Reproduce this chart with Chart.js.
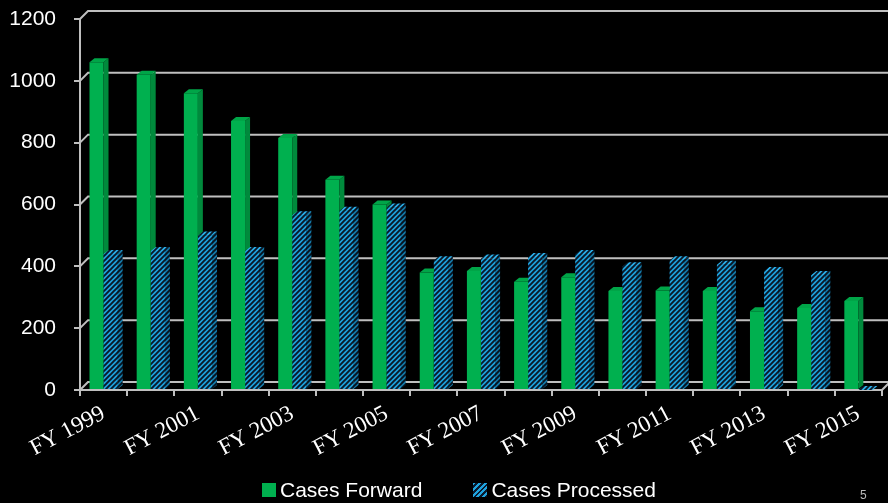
<!DOCTYPE html>
<html>
<head>
<meta charset="utf-8">
<script src="https://cdn.jsdelivr.net/npm/chart.js@4.4.1/dist/chart.umd.min.js"></script>
<style>
  html, body { margin: 0; padding: 0; background: #000; }
  #wrap { position: relative; width: 888px; height: 503px; }
  #page-no { position: absolute; left: 860px; top: 488px; color: #bbb; font: 12px "Liberation Sans", sans-serif; }
  #legend { position: absolute; left: 262px; top: 478px; display: flex; gap: 51px;
            font: 21px "Liberation Sans", Arial, sans-serif; color: #fff; line-height: 24px; }
  #legend .item { display: flex; align-items: center; white-space: nowrap; }
  #legend .box { width: 14px; height: 14px; margin-right: 4px; }
  #legend .hatch { background: repeating-linear-gradient(135deg, #1fa3de 0 2px, #0b1b2e 2px 4px); }
</style>
</head>
<body>
<div id="wrap">
  <canvas id="chart" width="888" height="503"></canvas>
  <div id="legend"></div>
  <div id="page-no">5</div>
</div>
<script>
// --- Données ---
const categories = ['FY 1999', 'FY 2000', 'FY 2001', 'FY 2002', 'FY 2003', 'FY 2004', 'FY 2005', 'FY 2006',
    'FY 2007', 'FY 2008', 'FY 2009', 'FY 2010', 'FY 2011', 'FY 2012', 'FY 2013', 'FY 2014', 'FY 2015'];
const casesForward = [1060, 1020, 960, 870, 815, 680, 600, 380, 385, 350, 365, 320, 322, 320, 255, 265, 288];
const casesProcessed = [440, 450, 500, 450, 565, 580, 590, 420, 425, 430, 440, 400, 420, 405, 385, 372, 0];
const yTicks = [0, 200, 400, 600, 800, 1000, 1200];

const GREEN = '#00b04f';
const GRID = '#bfbfbf';
const WALL_DX = 8, WALL_DY = 8;   // profondeur du mur du fond
const BAR_DX = 5, BAR_DY = 4;     // profondeur des barres

// motif hachuré bleu
function makeHatch(bg, stripe) {
    const s = 5;
    const c = document.createElement('canvas');
    c.width = s; c.height = s;
    const g = c.getContext('2d');
    g.fillStyle = bg;
    g.fillRect(0, 0, s, s);
    g.strokeStyle = stripe;
    g.lineWidth = 1.9;
    g.beginPath();
    g.moveTo(0, s); g.lineTo(s, 0);
    g.moveTo(-s / 2, s / 2); g.lineTo(s / 2, -s / 2);
    g.moveTo(s / 2, s * 1.5); g.lineTo(s * 1.5, s / 2);
    g.stroke();
    return g.createPattern(c, 'repeat');
}
const hatchFront = makeHatch('#1ea2dc', '#0a1828');
const hatchSide = makeHatch('#147aa8', '#07121f');
const hatchTop = makeHatch('#2bb0ea', '#0a1828');

// mur du fond : lignes de grille décalées en profondeur
const backWall = {
    id: 'backWall',
    beforeDatasetsDraw(chart) {
        const { ctx, chartArea, scales } = chart;
        const y = scales.y;
        ctx.save();
        ctx.strokeStyle = GRID;
        ctx.lineWidth = 2;
        yTicks.forEach(v => {
            const py = y.getPixelForValue(v);
            ctx.beginPath();
            ctx.moveTo(chartArea.left, py);
            ctx.lineTo(chartArea.left + WALL_DX, py - WALL_DY);
            ctx.lineTo(chartArea.right + WALL_DX, py - WALL_DY);
            ctx.stroke();
        });
        // coin bas droit du plancher
        ctx.beginPath();
        ctx.moveTo(chartArea.right, chartArea.bottom);
        ctx.lineTo(chartArea.right + WALL_DX, chartArea.bottom - WALL_DY);
        ctx.stroke();
        ctx.restore();
    }
};

function drawFaces(ctx, bar, side, top) {
    const { x, y, base, width } = bar.getProps(['x', 'y', 'base', 'width'], true);
    const l = x - width / 2, r = x + width / 2;
    ctx.fillStyle = side;
    ctx.beginPath();
    ctx.moveTo(r, y);
    ctx.lineTo(r + BAR_DX, y - BAR_DY);
    ctx.lineTo(r + BAR_DX, base - BAR_DY);
    ctx.lineTo(r, base);
    ctx.closePath();
    ctx.fill();
    ctx.fillStyle = top;
    ctx.beginPath();
    ctx.moveTo(l, y);
    ctx.lineTo(l + BAR_DX, y - BAR_DY);
    ctx.lineTo(r + BAR_DX, y - BAR_DY);
    ctx.lineTo(r, y);
    ctx.closePath();
    ctx.fill();
}

// faces latérales et supérieures des barres
const bars3d = {
    id: 'bars3d',
    afterDatasetsDraw(chart) {
        const { ctx } = chart;
        const green = chart.getDatasetMeta(0).data;
        const blue = chart.getDatasetMeta(1).data;
        ctx.save();
        green.forEach((bar, i) => {
            drawFaces(ctx, bar, '#008a3c', '#00a548');
            blue[i].draw(ctx);
            drawFaces(ctx, blue[i], hatchSide, hatchTop);
        });
        ctx.restore();
    }
};

// légende HTML construite à partir des éléments de légende de Chart.js
const htmlLegend = {
    id: 'htmlLegend',
    afterUpdate(chart) {
        const container = document.getElementById('legend');
        container.innerHTML = '';
        const items = Chart.defaults.plugins.legend.labels.generateLabels(chart);
        items.forEach(item => {
            const el = document.createElement('div');
            el.className = 'item';
            const box = document.createElement('span');
            box.className = 'box';
            if (typeof item.fillStyle === 'string') {
                box.style.background = item.fillStyle;
            } else {
                box.classList.add('hatch');
            }
            const text = document.createElement('span');
            text.textContent = item.text;
            el.appendChild(box);
            el.appendChild(text);
            container.appendChild(el);
        });
    }
};

const ctx = document.getElementById('chart').getContext('2d');
new Chart(ctx, {
    type: 'bar',
    data: {
        labels: categories,
        datasets: [
            {
                label: 'Cases Forward',
                data: casesForward,
                backgroundColor: GREEN,
                borderWidth: 0
            },
            {
                label: 'Cases Processed',
                data: casesProcessed,
                backgroundColor: hatchFront,
                borderWidth: 0
            }
        ]
    },
    options: {
        responsive: false,
        animation: false,
        devicePixelRatio: 1,
        layout: { padding: { top: 19, right: 6, left: 0, bottom: 43 } },
        categoryPercentage: 0.6,
        barPercentage: 0.99,
        plugins: {
            legend: { display: false },
            tooltip: { enabled: false }
        },
        scales: {
            x: {
                grid: {
                    display: true,
                    drawOnChartArea: false,
                    drawTicks: true,
                    tickLength: 6,
                    color: GRID,
                    lineWidth: 2
                },
                border: { display: true, color: GRID, width: 2 },
                ticks: {
                    color: '#fff',
                    font: { family: '"Liberation Serif", "Times New Roman", serif', size: 23 },
                    autoSkip: false,
                    minRotation: 28,
                    maxRotation: 28,
                    padding: 4,
                    callback: function(value, index) {
                        return index % 2 === 0 ? categories[index] : '';
                    }
                },
                afterFit: function(scale) { scale.height = 70; }
            },
            y: {
                min: 0,
                max: 1200,
                grid: {
                    display: true,
                    drawOnChartArea: false,
                    drawTicks: true,
                    tickLength: 6,
                    color: GRID,
                    lineWidth: 2
                },
                border: { display: true, color: GRID, width: 2 },
                ticks: {
                    stepSize: 200,
                    color: '#fff',
                    padding: 18,
                    font: { family: '"Liberation Sans", Arial, sans-serif', size: 21, lineHeight: 0.05 },
                    callback: function(value) { return String(value); }
                },
                afterFit: function(scale) { scale.width = 80; }
            }
        }
    },
    plugins: [backWall, bars3d, htmlLegend]
});
</script>
</body>
</html>
